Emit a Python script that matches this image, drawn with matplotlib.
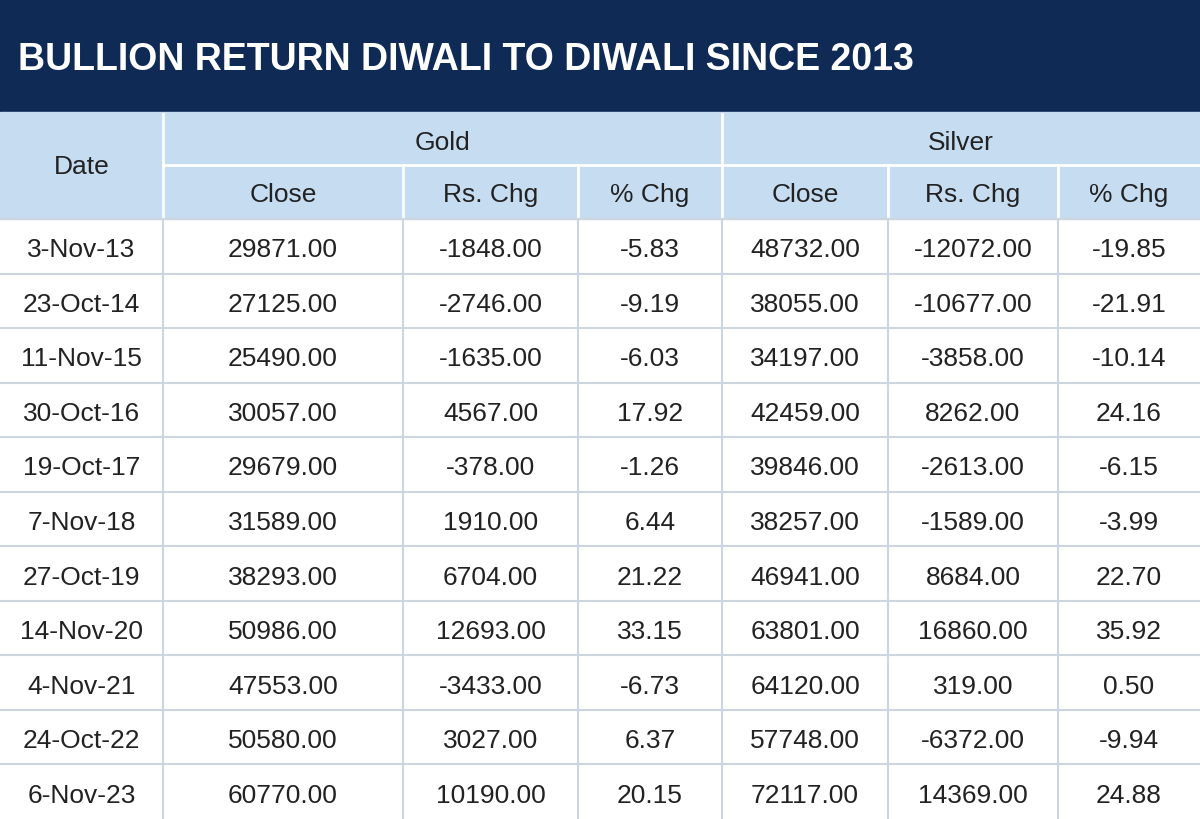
import matplotlib
matplotlib.use("Agg")
import matplotlib.pyplot as plt
from matplotlib.patches import Rectangle

FONT = "Liberation Sans"

title = "BULLION RETURN DIWALI TO DIWALI SINCE 2013"
dates = ["3-Nov-13", "23-Oct-14", "11-Nov-15", "30-Oct-16", "19-Oct-17", "7-Nov-18",
         "27-Oct-19", "14-Nov-20", "4-Nov-21", "24-Oct-22", "6-Nov-23"]
gold_close = [29871, 27125, 25490, 30057, 29679, 31589, 38293, 50986, 47553, 50580, 60770]
gold_chg = [-1848, -2746, -1635, 4567, -378, 1910, 6704, 12693, -3433, 3027, 10190]
gold_pct = [-5.83, -9.19, -6.03, 17.92, -1.26, 6.44, 21.22, 33.15, -6.73, 6.37, 20.15]
silver_close = [48732, 38055, 34197, 42459, 39846, 38257, 46941, 63801, 64120, 57748, 72117]
silver_chg = [-12072, -10677, -3858, 8262, -2613, -1589, 8684, 16860, 319, -6372, 14369]
silver_pct = [-19.85, -21.91, -10.14, 24.16, -6.15, -3.99, 22.70, 35.92, 0.50, -9.94, 24.88]
sub_headers = ["Close", "Rs. Chg", "% Chg", "Close", "Rs. Chg", "% Chg"]

W, H = 1200, 820
fig = plt.figure(figsize=(12, 8.2), dpi=100)
ax = fig.add_axes([0, 0, 1, 1])
ax.set_xlim(0, W); ax.set_ylim(H, 0); ax.axis("off")

navy = "#0f2b55"; hdr = "#c6dcf0"; grid = "#cdd6e0"; txt = "#222222"
cols = [0, 163, 403, 578, 722, 888, 1058, 1200]
ax.add_patch(Rectangle((0, 0), W, 113, color=navy))
ax.text(18, 60, title, color="white", fontsize=27, fontweight="bold", family=FONT, va="center", ha="left")

ax.add_patch(Rectangle((0, 113), W, 107, color=hdr))
ty, sy, dy0 = 115, 166, 220
rh = (H - dy0) / len(dates)
ax.plot([163, W], [sy, sy], color="white", lw=2)
ax.plot([163, 163], [ty, dy0], color="white", lw=2)
ax.plot([722, 722], [ty, dy0], color="white", lw=2)
for c in [403, 578, 888, 1058]:
    ax.plot([c, c], [sy, dy0], color="white", lw=2)
ax.text(82, (ty + dy0) / 2, "Date", fontsize=19, family=FONT, ha="center", va="center", color=txt)
ax.text((163 + 722) / 2, (ty + sy) / 2 + 2, "Gold", fontsize=19, family=FONT, ha="center", va="center", color=txt)
ax.text((722 + 1200) / 2, (ty + sy) / 2 + 2, "Silver", fontsize=19, family=FONT, ha="center", va="center", color=txt)
for i, h in enumerate(sub_headers):
    ax.text((cols[i + 1] + cols[i + 2]) / 2, (sy + dy0) / 2 + 2, h, fontsize=19, family=FONT,
            ha="center", va="center", color=txt)

for r in range(len(dates)):
    y = dy0 + r * rh
    vals = [dates[r], f"{gold_close[r]:.2f}", f"{gold_chg[r]:.2f}", f"{gold_pct[r]:.2f}",
            f"{silver_close[r]:.2f}", f"{silver_chg[r]:.2f}", f"{silver_pct[r]:.2f}"]
    for i, v in enumerate(vals):
        ax.text((cols[i] + cols[i + 1]) / 2, y + rh / 2 + 3, v, fontsize=19, family=FONT,
                ha="center", va="center", color=txt)
    ax.plot([0, W], [y, y], color=grid, lw=1.5)
for c in cols[1:-1]:
    ax.plot([c, c], [dy0, H], color=grid, lw=1.5)

fig.savefig("out.png", dpi=100)
